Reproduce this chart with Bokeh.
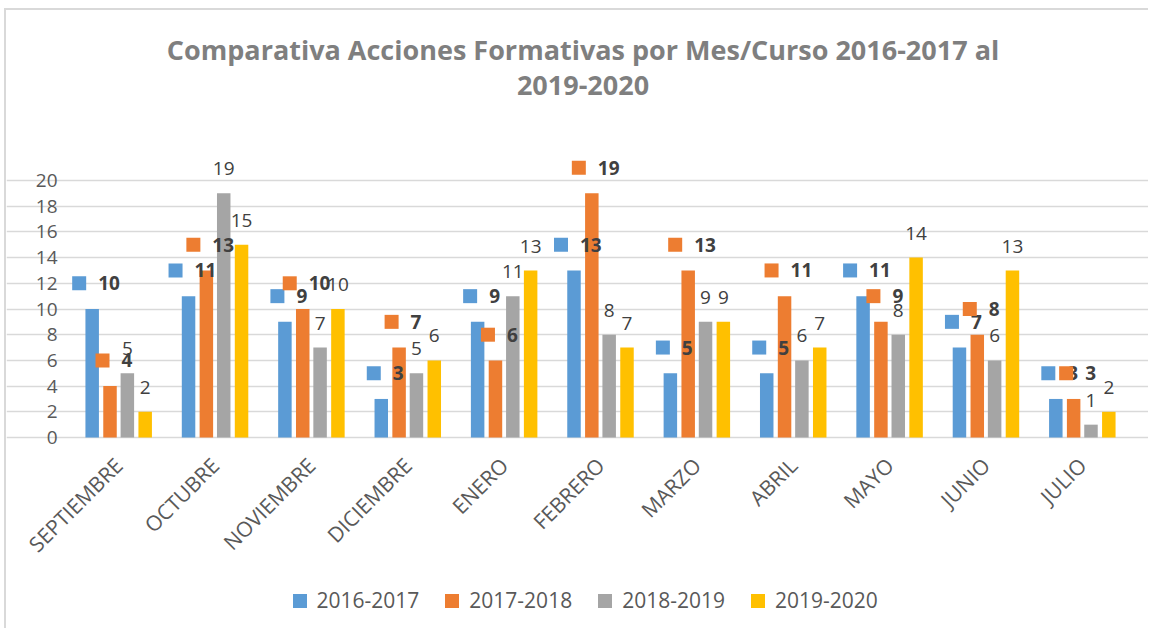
import math
from bokeh.plotting import figure
from bokeh.models import ColumnDataSource, Range1d, FixedTicker, Label, Legend, LegendItem
from bokeh.embed import file_html
from bokeh.resources import INLINE
from bokeh.core.properties import value

# ---- data ----
months = ["SEPTIEMBRE", "OCTUBRE", "NOVIEMBRE", "DICIEMBRE", "ENERO", "FEBRERO",
          "MARZO", "ABRIL", "MAYO", "JUNIO", "JULIO"]
series_names = ["2016-2017", "2017-2018", "2018-2019", "2019-2020"]
s_2016_2017 = [10, 11, 9, 3, 9, 13, 5, 5, 11, 7, 3]
s_2017_2018 = [4, 13, 10, 7, 6, 19, 13, 11, 9, 8, 3]
s_2018_2019 = [5, 19, 7, 5, 11, 8, 9, 6, 8, 6, 1]
s_2019_2020 = [2, 15, 10, 6, 13, 7, 9, 7, 14, 13, 2]
y_ticks = [0, 2, 4, 6, 8, 10, 12, 14, 16, 18, 20]
title_lines = ["Comparativa Acciones Formativas por Mes/Curso 2016-2017 al", "2019-2020"]

series = [s_2016_2017, s_2017_2018, s_2018_2019, s_2019_2020]
colors = ["#5B9BD5", "#ED7D31", "#A5A5A5", "#FFC000"]
offsets = [-0.275, -0.09, 0.09, 0.275]
bar_w = 0.14

# canvas (page offset of the canvas is 6px, 10px because of the margin/border styles)
W, H = 1144, 620
OX, OY = 6, 10
# page-pixel layout of the plotting area (category axis 0..11, value axis 0..20)
PX0, PX1 = 70, 1130
PY0, PY20 = 437, 180
ppx = (PX1 - PX0) / len(months)
ppy = (PY0 - PY20) / 20.0

x_start = (OX - PX0) / ppx
x_end = len(months) + (OX + W - PX1) / ppx
y_start = -(OY + H - PY0) / ppy
y_end = (PY0 - OY) / ppy

p = figure(width=W, height=H, x_range=Range1d(x_start, x_end), y_range=Range1d(y_start, y_end),
           output_backend="svg", toolbar_location=None,
           min_border_left=0, min_border_right=0, min_border_top=0, min_border_bottom=0)
p.outline_line_color = None
p.background_fill_color = "white"
p.border_fill_color = "white"
p.styles = {"margin-left": "4px", "margin-top": "8px",
            "border-top": "2px solid #D9D9D9", "border-left": "2px solid #D9D9D9"}

FONT = "Open Sans"

for k, (vals, col, off) in enumerate(zip(series, colors, offsets)):
    xs = [i + 0.5 + off for i in range(len(months))]
    src = ColumnDataSource(dict(x=xs, top=vals))
    p.vbar(x="x", top="top", bottom=0, width=bar_w, source=src, fill_color=col, line_color=None)

# legend keys (square markers, no visible data point)
legend_renderers = []
for col in colors:
    legend_renderers.append(p.scatter(x=[float("nan")], y=[float("nan")], marker="square",
                                      size=14, fill_color=col, line_color=None))

# Callout labels (legend key + bold number) for first two series
for k in (0, 1):
    vals = series[k]
    xs = [i + 0.5 + offsets[k] for i in range(len(months))]
    txt = [str(v) for v in vals]
    tw = [11 * len(t) for t in txt]
    box = [26 + w for w in tw]
    text_left = [4 - b / 2 + 26 for b in box]
    mark_px = [4 - b / 2 + 7 for b in box]
    src = ColumnDataSource(dict(
        x=xs, y=[v + 2 for v in vals], t=txt, xo=text_left,
        mx=[x + m / ppx for x, m in zip(xs, mark_px)]))
    p.scatter(x="mx", y="y", marker="square", size=14, fill_color=colors[k],
              line_color=None, source=src)
    p.text(x="x", y="y", text="t", x_offset="xo", source=src, text_align="left",
           text_baseline="middle", text_font=value(FONT), text_font_style="bold",
           text_font_size="19px", text_color="#404040")

# Plain labels for last two series
for k in (2, 3):
    vals = series[k]
    xs = [i + 0.5 + offsets[k] for i in range(len(months))]
    src = ColumnDataSource(dict(x=xs, y=[v + 1.9 for v in vals], t=[str(v) for v in vals]))
    p.text(x="x", y="y", text="t", source=src, text_align="center",
           text_baseline="middle", text_font=value(FONT),
           text_font_size="19px", text_color="#404040")

# grid
p.xgrid.grid_line_color = None
p.ygrid.ticker = FixedTicker(ticks=y_ticks)
p.ygrid.grid_line_color = "#D9D9D9"
p.ygrid.grid_line_width = 1.5
p.ygrid.bounds = (0, len(months))

# axes fixed inside the frame
p.yaxis.fixed_location = 0
p.yaxis.ticker = FixedTicker(ticks=y_ticks)
p.yaxis.axis_line_color = None
p.yaxis.major_tick_line_color = None
p.yaxis.minor_tick_line_color = None
p.yaxis.major_label_text_font = FONT
p.yaxis.major_label_text_font_size = "19px"
p.yaxis.major_label_text_color = "#595959"
p.yaxis.major_label_standoff = 7

tick_pos = [i + 0.5 for i in range(len(months))]
p.xaxis.fixed_location = 0
p.xaxis.ticker = FixedTicker(ticks=tick_pos)
p.xaxis.major_label_overrides = {t: m for t, m in zip(tick_pos, months)}
p.xaxis.major_label_orientation = math.pi / 4
p.xaxis.axis_line_color = None
p.xaxis.major_tick_line_color = None
p.xaxis.minor_tick_line_color = None
p.xaxis.major_label_text_font = FONT
p.xaxis.major_label_text_font_size = "21px"
p.xaxis.major_label_text_color = "#595959"
p.xaxis.major_label_standoff = 18

# title
title_x = (582.5 - PX0) / ppx
for line, py in zip(title_lines, [49, 85]):
    p.add_layout(Label(x=title_x, y=(PY0 - py) / ppy, text=line, text_align="center",
                       text_baseline="middle", text_font=FONT, text_font_style="bold",
                       text_font_size="27px", text_color="#7F7F7F"))

legend = Legend(items=[LegendItem(label=n, renderers=[r]) for n, r in zip(series_names, legend_renderers)],
                orientation="horizontal", location=(281.5 - OX, OY + H - 617.5),
                glyph_width=35, glyph_height=35, label_standoff=-4, spacing=15,
                padding=0, margin=0, border_line_color=None, background_fill_alpha=0,
                label_text_font=FONT, label_text_font_size="21px", label_text_color="#595959")
p.add_layout(legend)

open("out.html", "w").write(file_html(p, INLINE))
